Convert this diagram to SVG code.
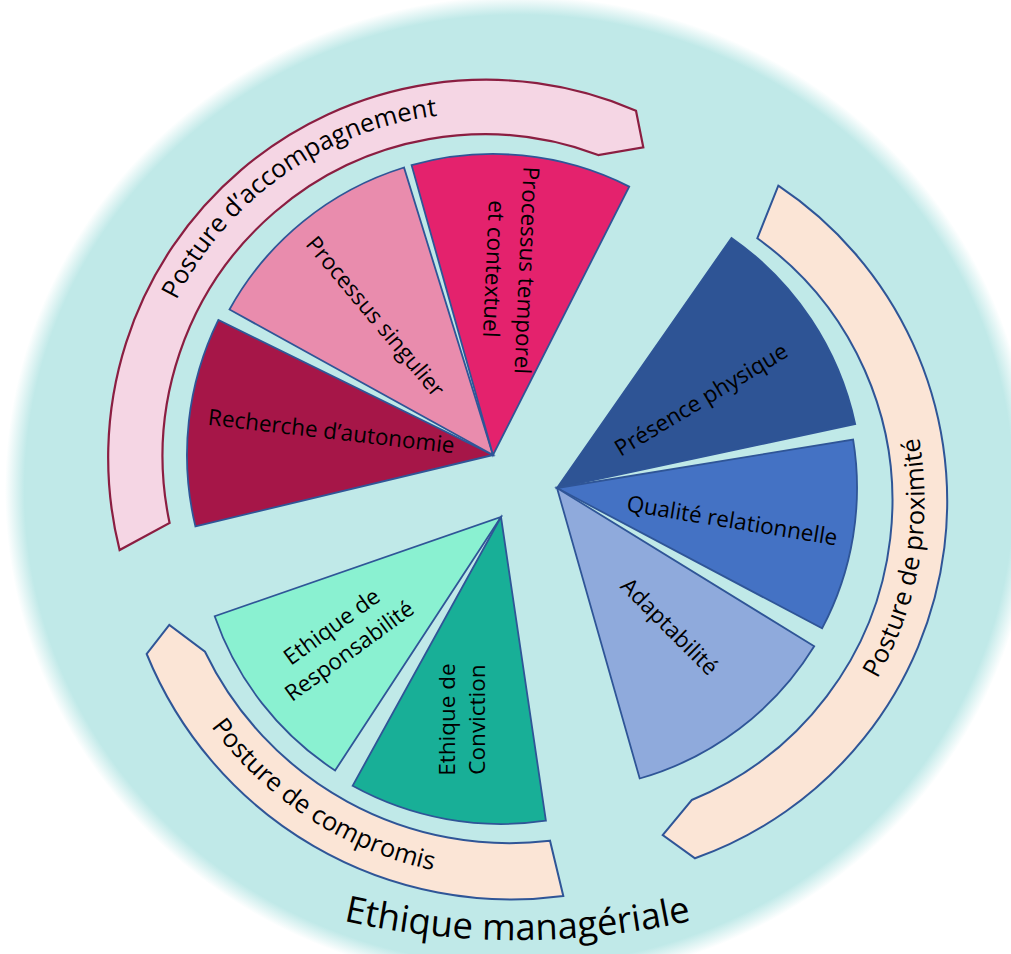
<svg xmlns="http://www.w3.org/2000/svg" width="1011" height="954" viewBox="0 0 1011 954">
<defs>
  <radialGradient id="bgFade" cx="0.5" cy="0.5" r="0.5">
    <stop offset="0" stop-color="#C0E9E8"/>
    <stop offset="0.962" stop-color="#C0E9E8"/>
    <stop offset="1" stop-color="#C0E9E8" stop-opacity="0"/>
  </radialGradient>
  <path id="arcAcc" d="M141.2,424.8 A340,340 0 0 1 566.6,124.2"/>
  <path id="arcProx" d="M747.2,809.5 A357,357 0 0 0 840.3,270.6"/>
  <path id="arcComp" d="M141.4,551.6 A373,373 0 0 0 621.2,862"/>
  <path id="arcTitle" d="M121,833.8 A793,793 0 0 0 914,833.8"/>
</defs>
<style>
  .wedge{stroke:#2F5597;stroke-width:1.8;stroke-linejoin:miter}
  .band{stroke:#2F5597;stroke-width:2;fill:#FBE5D6}
  .bandPink{stroke:#8B1E41;stroke-width:2.2;fill:#F5D6E4}
  .lbl{font-family:"Open Sans","Liberation Sans",sans-serif;font-size:22.5px;fill:#000;text-anchor:middle}
  .post{font-family:"Open Sans","Liberation Sans",sans-serif;font-size:25.5px;fill:#000;text-anchor:middle}
  .title{font-family:"Open Sans","Liberation Sans",sans-serif;font-size:36.5px;fill:#000;text-anchor:middle}
</style>
<rect width="1011" height="954" fill="#FFFFFF"/>
<g id="background">
  <ellipse cx="519" cy="490" rx="514" ry="494" fill="url(#bgFade)"/>
</g>

<g id="posture-accompagnement">
  <path class="bandPink" d="M119.6,550 A378,378 0 0 1 636,110.7 L643.3,147.3 L598.2,155 A322,322 0 0 0 169.6,523 Z"/>
  <text class="post"><textPath href="#arcAcc" startOffset="50%">Posture d’accompagnement</textPath></text>
</g>

<g id="recherche-autonomie">
  <path class="wedge" fill="#A61648" d="M493,455 L195.4,526.4 A306,306 0 0 1 218.4,319.9 Z"/>
  <text class="lbl" transform="translate(330.5,439) rotate(6.6)">Recherche d’autonomie</text>
</g>
<g id="processus-singulier">
  <path class="wedge" fill="#E98CAD" d="M493,455 L229.5,309.5 A301,301 0 0 1 404,167.5 Z"/>
  <text class="lbl" transform="translate(369.4,321.5) rotate(50)">Processus singulier</text>
</g>
<g id="processus-temporel">
  <path class="wedge" fill="#E4226D" d="M493,455 L411.6,165.2 A301,301 0 0 1 629.2,186.6 Z"/>
  <text class="lbl" transform="translate(519,270) rotate(92.5)"><tspan x="0" y="0">Processus temporel</tspan><tspan x="0" y="33">et contextuel</tspan></text>
</g>

<g id="posture-proximite">
  <path class="band" d="M778.3,185.7 A379,379 0 0 1 695,858.3 L662.7,835 L691.7,800 A323,323 0 0 0 757.3,238.3 Z"/>
  <text class="post"><textPath href="#arcProx" startOffset="50%">Posture de proximité</textPath></text>
</g>

<g id="presence-physique">
  <path class="wedge" fill="#2E5495" d="M557,488 L731.5,237.9 A305,305 0 0 1 855.2,424.1 Z"/>
  <text class="lbl" transform="translate(705.1,406.3) rotate(-31)">Présence physique</text>
</g>
<g id="qualite-relationnelle">
  <path class="wedge" fill="#4472C4" d="M557,488 L853.1,439.5 A300,300 0 0 1 822.1,628.4 Z"/>
  <text class="lbl" transform="translate(730.8,528.2) rotate(9.3)">Qualité relationnelle</text>
</g>
<g id="adaptabilite">
  <path class="wedge" fill="#8FAADC" d="M557,488 L814.2,646.3 A302,302 0 0 1 639.7,778.5 Z"/>
  <text class="lbl" transform="translate(664,632) rotate(45)">Adaptabilité</text>
</g>

<g id="posture-compromis">
  <path class="band" d="M563.3,896 A394,394 0 0 1 146.7,654 L169.3,625 L205,651.7 A338,338 0 0 0 550,840.7 Z"/>
  <text class="post"><textPath href="#arcComp" startOffset="50%">Posture de compromis</textPath></text>
</g>

<g id="ethique-responsabilite">
  <path class="wedge" fill="#8AF1D1" d="M501,517 L335.1,770.5 A303,303 0 0 1 214.7,616.2 Z"/>
  <text class="lbl" transform="translate(336.3,632.9) rotate(-36)"><tspan x="0" y="0">Ethique de</tspan><tspan x="0" y="30">Responsabilité</tspan></text>
</g>
<g id="ethique-conviction">
  <path class="wedge" fill="#18AF97" d="M501,517 L545.9,820.7 A307,307 0 0 1 352.6,785.8 Z"/>
  <text class="lbl" transform="translate(455,719.5) rotate(-90)"><tspan x="0" y="0">Ethique de</tspan><tspan x="0" y="30">Conviction</tspan></text>
</g>

<g id="ethique-manageriale">
  <text class="title"><textPath href="#arcTitle" startOffset="50%">Ethique managériale</textPath></text>
</g>
</svg>
